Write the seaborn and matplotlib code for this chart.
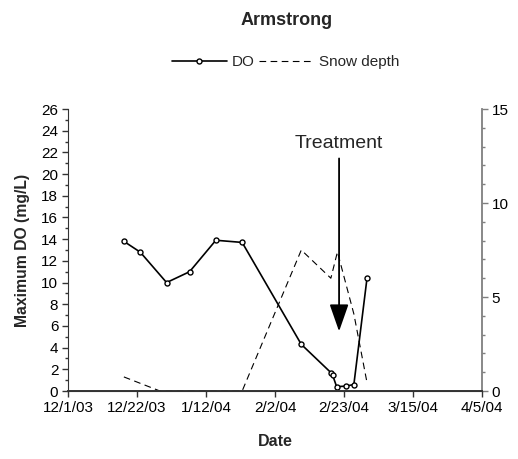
import numpy as np
import pandas as pd
import matplotlib
matplotlib.use("Agg")
import matplotlib.pyplot as plt
from matplotlib.ticker import MultipleLocator
import seaborn as sns

# DO readings (mg/L)
do_dates = ["2003-12-18", "2003-12-23", "2003-12-31", "2004-01-07", "2004-01-15",
            "2004-01-23", "2004-02-10", "2004-02-19", "2004-02-19 12:00", "2004-02-20 18:00",
            "2004-02-23 12:00", "2004-02-26", "2004-03-01"]
do_values = [13.8, 12.8, 10.0, 11.0, 13.9, 13.7, 4.3, 1.7, 1.5, 0.4, 0.45, 0.6, 10.4]

# snow depth (right axis)
snow_dates = ["2003-12-18", "2003-12-29", "2004-01-23", "2004-02-10", "2004-02-19",
              "2004-02-21", "2004-02-26", "2004-03-01"]
snow_values = [0.75, 0.0, 0.0, 7.5, 6.0, 7.4, 4.1, 0.45]

xtick_dates = ["2003-12-01", "2003-12-22", "2004-01-12", "2004-02-02",
               "2004-02-23", "2004-03-15", "2004-04-05"]
xtick_labels = ["12/1/03", "12/22/03", "1/12/04", "2/2/04", "2/23/04", "3/15/04", "4/5/04"]

sns.set_style("ticks")
plt.rcParams['font.family'] = ['Liberation Sans', 'DejaVu Sans']

do = pd.DataFrame({"date": pd.to_datetime(do_dates, format="ISO8601"), "value": do_values})
snow = pd.DataFrame({"date": pd.to_datetime(snow_dates, format="ISO8601"), "value": snow_values})

fig = plt.figure(figsize=(5.18, 4.59), dpi=100)
ax = fig.add_axes([0.1313, 0.1481, 0.7992, 0.6144])
ax2 = ax.twinx()
# left axes on top so its bottom spine hides the zero-depth stretch
ax.set_zorder(ax2.get_zorder() + 1)
ax.patch.set_visible(False)

sns.lineplot(data=snow, x="date", y="value", ax=ax2, color="black", lw=0.8,
             linestyle=(0, (6, 4)), label="Snow depth", legend=False)
sns.lineplot(data=do, x="date", y="value", ax=ax, color="black", lw=1.2,
             marker="o", markersize=3.6, markerfacecolor="white",
             markeredgecolor="black", markeredgewidth=1, label="DO", legend=False,
             estimator=None, sort=False)

ax.set_xlim(pd.Timestamp("2003-12-01"), pd.Timestamp("2004-04-05"))
ax.set_ylim(0, 26)
ax.set_yticks(np.arange(0, 27, 2))
ax.yaxis.set_minor_locator(MultipleLocator(1))
ax2.set_ylim(0, 15)
ax2.set_yticks([0, 5, 10, 15])
ax2.yaxis.set_minor_locator(MultipleLocator(1))
ax.set_xticks(pd.to_datetime(xtick_dates))
ax.set_xticklabels(xtick_labels)

for a in (ax, ax2):
    a.tick_params(which="major", labelsize=11, length=4, width=1, colors="#333333",
                  labelcolor="black", pad=3)
    a.tick_params(which="minor", length=2.5, width=1, colors="#333333")
    a.spines["top"].set_visible(False)
    for s in ("left", "bottom"):
        a.spines[s].set_color("#333333")
ax.tick_params(axis="x", which="minor", length=0)
ax.spines["bottom"].set_linewidth(1.4)
ax.spines["right"].set_visible(False)
ax2.spines["left"].set_visible(False)
ax2.spines["right"].set_color("#7f7f7f")
ax2.spines["right"].set_linewidth(1.3)
ax2.tick_params(colors="#7f7f7f", labelcolor="black", which="both")
ax2.set_ylabel("")
ax.set_xlabel("Date", fontsize=11.5, fontweight="bold", labelpad=14)
ax.set_ylabel("Maximum DO (mg/L)", fontsize=11.3, fontweight="bold", labelpad=8)

# treatment arrow
ax.annotate("Treatment", xy=(pd.Timestamp("2004-02-21 12:00"), 5.5),
            xytext=(pd.Timestamp("2004-02-21 12:00"), 22.0),
            ha="center", va="bottom", fontsize=14, zorder=5,
            arrowprops=dict(arrowstyle="-|>,head_length=1.2,head_width=0.42",
                            color="black", lw=1.3, shrinkA=2, shrinkB=0))

fig.text(0.553, 0.955, "Armstrong", ha="center", va="center", fontsize=13, fontweight="bold")
h1, l1 = ax.get_legend_handles_labels()
h2, l2 = ax2.get_legend_handles_labels()
fig.legend(h1 + h2, l1 + l2, loc="center", bbox_to_anchor=(0.551, 0.865), ncol=2,
           frameon=False, fontsize=11, handlelength=3.6, columnspacing=0.3, handletextpad=0.3)

fig.savefig("out.png", dpi=100)
